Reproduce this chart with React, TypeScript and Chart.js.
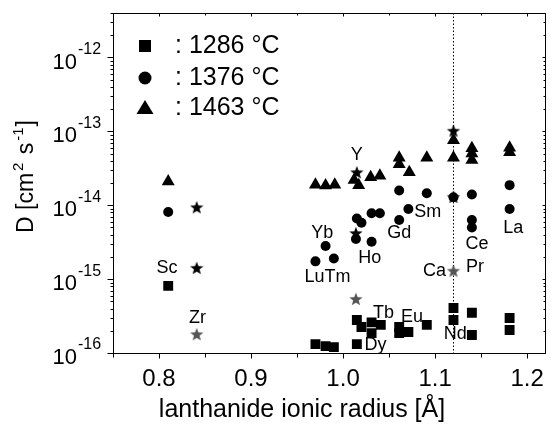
import React, { useEffect, useRef } from 'react';
import { Chart, registerables } from 'chart.js';
Chart.register(...registerables);

// ---- data (lanthanide ionic radius [Å], D [cm^2 s^-1]) ----
const x1286 = [0.81, 0.97, 0.981, 0.99, 1.015, 1.015, 1.02, 1.031, 1.031, 1.041, 1.061, 1.061, 1.071, 1.091, 1.12, 1.12, 1.14, 1.14, 1.181, 1.181];
const d1286 = [8.1e-16, 1.32e-16, 1.24e-16, 1.2e-16, 1.32e-16, 2.8e-16, 2.25e-16, 2.6e-16, 1.86e-16, 2.4e-16, 2.25e-16, 1.86e-16, 1.92e-16, 2.4e-16, 4.06e-16, 2.8e-16, 3.5e-16, 1.75e-16, 2.97e-16, 2.05e-16];

const x1376 = [0.81, 0.97, 0.981, 0.99, 1.014, 1.015, 1.02, 1.031, 1.031, 1.04, 1.061, 1.061, 1.071, 1.091, 1.12, 1.14, 1.14, 1.14, 1.181, 1.181];
const d1376 = [8.1e-15, 1.74e-15, 2.8e-15, 1.9e-15, 3.5e-15, 6.6e-15, 5.8e-15, 7.8e-15, 3.2e-15, 7.8e-15, 6.3e-15, 1.58e-14, 8.9e-15, 1.45e-14, 1.28e-14, 1.4e-14, 6.3e-15, 5.0e-15, 1.87e-14, 8.9e-15];

const x1463 = [0.81, 0.97, 0.981, 0.991, 1.012, 1.017, 1.03, 1.04, 1.061, 1.061, 1.072, 1.091, 1.12, 1.12, 1.14, 1.14, 1.14, 1.181, 1.181];
const d1463 = [2.1e-14, 1.9e-14, 1.85e-14, 1.9e-14, 2.2e-14, 1.87e-14, 2.4e-14, 2.5e-14, 4.4e-14, 3.6e-14, 2.8e-14, 4.4e-14, 7.6e-14, 4.4e-14, 5.9e-14, 5.0e-14, 4.1e-14, 6.0e-14, 5.2e-14];

const xStarBlack = [0.841, 0.841, 1.014, 1.015, 1.12, 1.12];
const dStarBlack = [9.4e-15, 1.42e-15, 4.2e-15, 2.8e-14, 1.02e-13, 1.3e-14];

const xStarGray = [0.841, 1.014, 1.12];
const dStarGray = [1.8e-16, 5.4e-16, 1.3e-15];

const elementLabels = ['Sc', 'Zr', 'Y', 'Yb', 'LuTm', 'Ho', 'Gd', 'Sm', 'Ce', 'La', 'Pr', 'Ca', 'Tb', 'Eu', 'Nd', 'Dy'];
const elementLabelX = [0.8086, 0.8417, 1.015, 0.9775, 0.983, 1.0289, 1.061, 1.092, 1.1455, 1.185, 1.1433, 1.0995, 1.0439, 1.0749, 1.1219, 1.0353];
const elementLabelD = [1.42e-15, 2.97e-16, 4.74e-14, 4.19e-15, 1.06e-15, 1.92e-15, 4.19e-15, 8.04e-15, 2.97e-15, 4.89e-15, 1.45e-15, 1.28e-15, 3.47e-16, 3.06e-16, 1.81e-16, 1.28e-16];

const legendLabels = [': 1286 °C', ': 1376 °C', ': 1463 °C'];

const xMajorTicks = [0.8, 0.9, 1.0, 1.1, 1.2];
const xMinorTicks = [0.75, 0.85, 0.95, 1.05, 1.15];
const xTickLabels = ['0.8', '0.9', '1.0', '1.1', '1.2'];
const yDecades = [-16, -15, -14, -13, -12];
const dottedLineX = 1.12;

const X_MIN = 0.75, X_MAX = 1.22, Y_MIN = 1e-16, Y_MAX = 4e-12;

const FONT = '"Liberation Sans", Arial, sans-serif';

function makeStar(color: string, R: number) {
  const size = Math.ceil(R * 2) + 2;
  const c = document.createElement('canvas');
  c.width = size; c.height = size;
  const g = c.getContext('2d')!;
  g.fillStyle = color;
  g.beginPath();
  const cx = size / 2, cy = size / 2 + R * 0.1;
  for (let i = 0; i < 10; i++) {
    const r = i % 2 === 0 ? R : R * 0.42;
    const a = -Math.PI / 2 + (i * Math.PI) / 5;
    g.lineTo(cx + r * Math.cos(a), cy + r * Math.sin(a));
  }
  g.closePath();
  g.fill();
  return c;
}

const zip = (xs: number[], ys: number[]) => xs.map((x, i) => ({ x, y: ys[i] }));

const axesPlugin = {
  id: 'customAxes',
  beforeDatasetsDraw(chart: any) {
    const { ctx, chartArea, scales } = chart;
    const px = scales.x.getPixelForValue(dottedLineX);
    ctx.save();
    ctx.strokeStyle = '#000';
    ctx.lineWidth = 1;
    ctx.setLineDash([1.5, 2]);
    ctx.beginPath();
    ctx.moveTo(Math.round(px) + 0.5, chartArea.top);
    ctx.lineTo(Math.round(px) + 0.5, chartArea.bottom);
    ctx.stroke();
    ctx.restore();
  },
  afterDraw(chart: any) {
    const { ctx, chartArea, scales } = chart;
    const { left, right, top, bottom } = chartArea;
    const xs = scales.x, ys = scales.y;
    ctx.save();
    ctx.strokeStyle = '#000';
    ctx.fillStyle = '#000';
    ctx.lineWidth = 1;
    ctx.setLineDash([]);
    // frame
    ctx.strokeRect(Math.round(left) + 0.5, Math.round(top) + 0.5, Math.round(right - left) - 1, Math.round(bottom - top));
    const bx = Math.round(bottom) + 0.5;
    const tx = Math.round(top) + 0.5;
    const lx = Math.round(left) + 0.5;
    const rx = Math.round(right) - 0.5;
    ctx.beginPath();
    const xt = (v: number, len: number, inLen: number) => {
      const p = Math.round(xs.getPixelForValue(v)) + 0.5;
      ctx.moveTo(p, bx); ctx.lineTo(p, bx + len);
      ctx.moveTo(p, tx); ctx.lineTo(p, tx + inLen);
    };
    xMajorTicks.forEach(v => xt(v, 5, 3));
    xMinorTicks.forEach(v => xt(v, 4, 2));
    const yt = (v: number, len: number, inLen: number) => {
      const p = Math.round(ys.getPixelForValue(v)) + 0.5;
      ctx.moveTo(lx, p); ctx.lineTo(lx - len, p);
      ctx.moveTo(rx, p); ctx.lineTo(rx - inLen, p);
    };
    yDecades.forEach(e => {
      yt(Math.pow(10, e), 6, 3);
      for (let m = 2; m <= 9; m++) {
        const v = m * Math.pow(10, e);
        if (v <= Y_MAX) yt(v, 3, 2);
      }
    });
    ctx.stroke();

    // x tick labels
    ctx.font = `24px ${FONT}`;
    ctx.textAlign = 'center';
    ctx.textBaseline = 'middle';
    xMajorTicks.forEach((v, i) => {
      ctx.fillText(xTickLabels[i], xs.getPixelForValue(v), bottom + 26);
    });
    // y tick labels 10^n
    yDecades.forEach(e => {
      const p = ys.getPixelForValue(Math.pow(10, e));
      ctx.font = `22px ${FONT}`;
      ctx.textAlign = 'right';
      ctx.fillText('10', 77, p + 5);
      ctx.font = `16px ${FONT}`;
      ctx.textAlign = 'left';
      ctx.fillText(String(e), 78, p - 8);
    });
    // x title
    ctx.font = `25px ${FONT}`;
    ctx.textAlign = 'center';
    ctx.fillText('lanthanide ionic radius [Å]', 302, 410);
    // y title
    ctx.save();
    ctx.translate(33, 233);
    ctx.rotate(-Math.PI / 2);
    ctx.textAlign = 'left';
    ctx.textBaseline = 'alphabetic';
    let cx = 0;
    const part = (t: string, size: number, dy: number) => {
      ctx.font = `${size}px ${FONT}`;
      ctx.fillText(t, cx, dy);
      cx += ctx.measureText(t).width;
    };
    part('D [cm', 23, 0);
    cx += 2;
    part('2', 15, -10);
    cx += 2;
    part(' s', 23, 0);
    cx += 2;
    part('-1', 15, -10);
    cx += 1;
    part(']', 23, 0);
    ctx.restore();

    // legend
    const ly = [46, 78, 108];
    const mx = 145;
    ctx.fillRect(mx - 6, ly[0] - 6, 12, 12);
    ctx.beginPath(); ctx.arc(mx, ly[1], 6.5, 0, Math.PI * 2); ctx.fill();
    ctx.beginPath();
    ctx.moveTo(mx, ly[2] - 8); ctx.lineTo(mx + 8.5, ly[2] + 6); ctx.lineTo(mx - 8.5, ly[2] + 6); ctx.closePath(); ctx.fill();
    ctx.font = `25px ${FONT}`;
    ctx.textAlign = 'left';
    ctx.textBaseline = 'middle';
    legendLabels.forEach((t, i) => ctx.fillText(t, 175, ly[i]));
    ctx.restore();
  },
  afterDatasetsDraw(chart: any) {
    const { ctx, scales } = chart;
    ctx.save();
    ctx.fillStyle = '#000';
    ctx.font = `18px ${FONT}`;
    ctx.textAlign = 'center';
    ctx.textBaseline = 'middle';
    elementLabels.forEach((t, i) => {
      ctx.fillText(t, scales.x.getPixelForValue(elementLabelX[i]), scales.y.getPixelForValue(elementLabelD[i]));
    });
    ctx.restore();
  },
};

export default function App() {
  const ref = useRef<HTMLCanvasElement>(null);
  useEffect(() => {
    const blackStar = makeStar('#000', 7);
    const grayStar = makeStar('#555', 7);
    const chart = new Chart(ref.current!, {
      type: 'scatter',
      data: {
        datasets: [
          { label: 'star', data: zip(xStarBlack, dStarBlack), pointStyle: blackStar as any, backgroundColor: '#000', borderWidth: 0 },
          { label: 'star gray', data: zip(xStarGray, dStarGray), pointStyle: grayStar as any, backgroundColor: '#555', borderWidth: 0 },
          { label: '1286 °C', data: zip(x1286, d1286), pointStyle: 'rect', pointRadius: 7, backgroundColor: '#000', borderColor: '#000', borderWidth: 0 },
          { label: '1376 °C', data: zip(x1376, d1376), pointStyle: 'circle', pointRadius: 5, backgroundColor: '#000', borderColor: '#000', borderWidth: 0 },
          { label: '1463 °C', data: zip(x1463, d1463), pointStyle: 'triangle', pointRadius: 7.5, backgroundColor: '#000', borderColor: '#000', borderWidth: 0 },
        ],
      },
      options: {
        animation: false,
        responsive: false,
        events: [],
        layout: { padding: { top: 13, right: 1, left: 0, bottom: 0 } },
        plugins: { legend: { display: false }, tooltip: { enabled: false } },
        scales: {
          x: {
            type: 'linear', min: X_MIN, max: X_MAX,
            grid: { display: false }, border: { display: false }, ticks: { display: false },
            afterFit: (s: any) => { s.height = 74; },
          },
          y: {
            type: 'logarithmic', min: Y_MIN, max: Y_MAX,
            grid: { display: false }, border: { display: false }, ticks: { display: false },
            afterFit: (s: any) => { s.width = 113; },
          },
        },
      },
      plugins: [axesPlugin],
    } as any);
    return () => chart.destroy();
  }, []);
  return (
    <div style={{ position: 'absolute', left: 0, top: 0, width: 553, height: 427, background: '#fff' }}>
      <canvas ref={ref} width={553} height={427} style={{ display: 'block' }} />
    </div>
  );
}
